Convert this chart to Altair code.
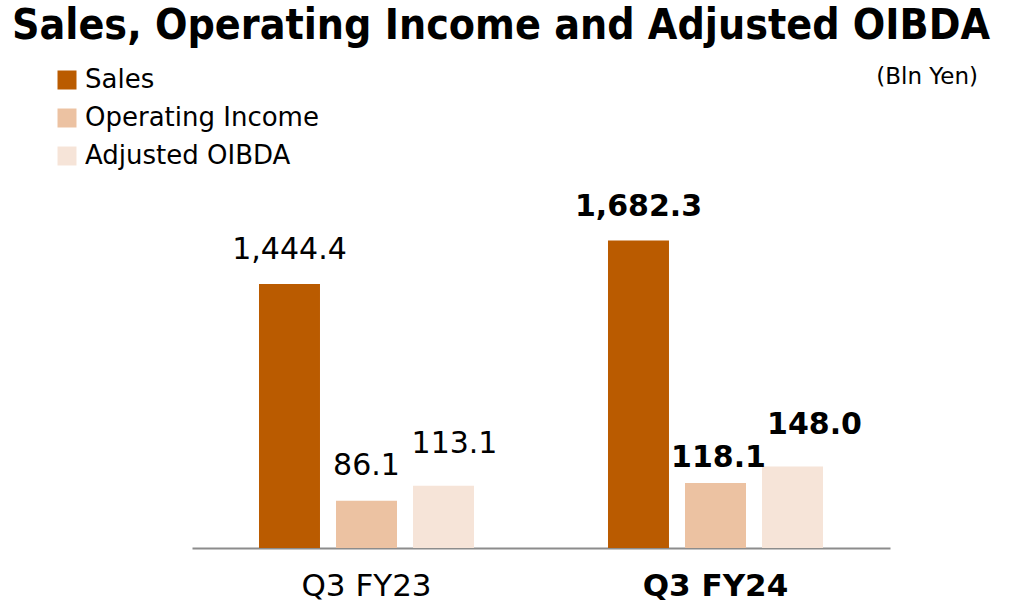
import altair as alt
import pandas as pd

periods = ["Q3 FY23", "Q3 FY24"]
series_names = ["Sales", "Operating Income", "Adjusted OIBDA"]
sales = [1444.4, 1682.3]
operating_income = [86.1, 118.1]
adjusted_oibda = [113.1, 148.0]
colors = ["#BA5B00", "#ECC2A2", "#F6E4D8"]
unit_label = "(Bln Yen)"
title_text = "Sales, Operating Income and Adjusted OIBDA"

rows = []
for i, p in enumerate(periods):
    for s, vals in zip(series_names, [sales, operating_income, adjusted_oibda]):
        rows.append({"period": p, "series": s, "value": vals[i],
                     "label": f"{vals[i]:,.1f}"})
df = pd.DataFrame(rows)

FONT = "DejaVu Sans"

x_enc = alt.X(
    "period:N",
    sort=periods,
    scale=alt.Scale(paddingInner=0, paddingOuter=0),
    axis=alt.Axis(
        title=None, ticks=False, domainColor="#8c8c8c", domainWidth=2,
        labelFont=FONT, labelFontSize=31, labelColor="#000000",
        labelAngle=0, labelBaseline="alphabetic", labelPadding=47,
        labelFontWeight={"condition": {"test": "datum.value == 'Q3 FY24'", "value": "bold"}, "value": "normal"},
    ),
)
xoff_enc = alt.XOffset(
    "series:N",
    scale=alt.Scale(domain=series_names, paddingInner=0.208, paddingOuter=0.87),
)
color_enc = alt.Color(
    "series:N",
    scale=alt.Scale(domain=series_names, range=colors),
    legend=alt.Legend(
        title=None, orient="none", legendX=-138, legendY=-123,
        symbolType="square", symbolSize=361, symbolStrokeWidth=0,
        symbolOpacity=1,
        labelFont=FONT, labelFontSize=26, labelColor="#000000",
        labelOffset=5, rowPadding=12, labelLimit=400,
    ),
)

base = alt.Chart(df)
bold_expr = alt.ExprRef("datum.period == 'Q3 FY24' ? 'bold' : 'normal'")
dx_expr = alt.ExprRef(
    "datum.series == 'Adjusted OIBDA' ? (datum.period == 'Q3 FY24' ? 22 : 11) : "
    "(datum.series == 'Operating Income' && datum.period == 'Q3 FY24' ? 3 : 0)"
)
dy_expr = alt.ExprRef(
    "datum.series == 'Adjusted OIBDA' ? -33 : "
    "(datum.series == 'Operating Income' ? (datum.period == 'Q3 FY24' ? -16 : -26) : -25)"
)

def group(filter_expr, ymax):
    y_enc = alt.Y("value:Q", axis=None,
                  scale=alt.Scale(domain=[0, ymax], nice=False, zero=True))
    b = base.transform_filter(filter_expr)
    bars = b.mark_bar(opacity=1).encode(x=x_enc, xOffset=xoff_enc, y=y_enc, color=color_enc)
    text = b.mark_text(font=FONT, fontSize=30, baseline="alphabetic", dx=dx_expr, dy=dy_expr,
                       color="#000000", fontWeight=bold_expr).encode(
        x=x_enc, xOffset=xoff_enc, y=y_enc, text="label:N")
    return alt.layer(bars, text)

sales_group = group("datum.series == 'Sales'", 1958.7)
other_group = group("datum.series != 'Sales'", 651)

unit = alt.Chart(pd.DataFrame({"t": [unit_label]})).mark_text(
    font=FONT, fontSize=23, align="right", baseline="alphabetic", color="#000000"
).encode(x=alt.value(786), y=alt.value(-106), text="t:N")

chart = alt.layer(sales_group, other_group, unit).resolve_scale(
    y="independent"
).properties(
    width=698, height=358,
    autosize=alt.AutoSizeParams(type="none"),
    padding={"left": 192, "top": 190, "right": 134, "bottom": 58},
    background="#ffffff",
    title=alt.TitleParams(
        text=title_text, anchor="start", frame="group", dx=-180,
        font="DejaVu Sans Condensed", fontSize=42.5, fontWeight="bold",
        color="#000000", offset=19,
    ),
).configure_view(stroke=None)

chart.save("out.html", embed_options={"renderer": "svg", "actions": False})
